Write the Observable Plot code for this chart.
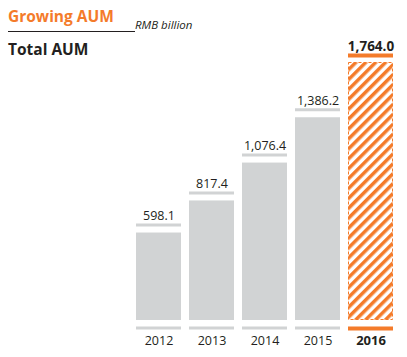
<!DOCTYPE html>
<html>
<head>
<meta charset="utf-8">
<script src="https://cdn.jsdelivr.net/npm/d3@7"></script>
<script src="https://cdn.jsdelivr.net/npm/@observablehq/plot@0.6"></script>
<style>
  html, body { margin: 0; padding: 0; background: #fff; }
  #wrap { position: relative; width: 407px; height: 357px; font-family: "Open Sans", sans-serif; }
  #wrap svg { position: absolute; left: 0; top: 0; }
  .t1 { position: absolute; left: 8px; top: 6px; font-size: 15.5px; font-weight: 700; color: #f47b2a; line-height: 20px; }
  .rule { position: absolute; left: 8px; top: 31px; width: 127px; height: 1px; background: #231f20; }
  .unit { position: absolute; left: 135px; top: 17px; font-size: 11.5px; font-style: italic; color: #231f20; line-height: 16px; }
  .t2 { position: absolute; left: 8px; top: 39px; font-size: 15.5px; font-weight: 700; color: #231f20; line-height: 20px; }
</style>
</head>
<body>
<div id="wrap">
  <div class="t1">Growing AUM</div>
  <div class="rule"></div>
  <div class="unit">RMB billion</div>
  <div class="t2">Total AUM</div>
</div>
<script>
const years = ["2012", "2013", "2014", "2015", "2016"];
const aum = [598.1, 817.4, 1076.4, 1386.2, 1764.0];
const valueLabels = ["598.1", "817.4", "1,076.4", "1,386.2", "1,764.0"];

const data = years.map((y, i) => ({year: y, value: aum[i], label: valueLabels[i], hi: y === "2016"}));
const past = data.filter(d => !d.hi);
const cur = data.filter(d => d.hi);

const orange = "#f47b2a";
const gray = "#d1d3d4";
const ink = "#231f20";

const chart = Plot.plot({
  width: 407,
  height: 357,
  marginLeft: 135,
  marginRight: 13,
  marginTop: 62,
  marginBottom: 37,
  style: {fontFamily: "Open Sans, sans-serif", background: "transparent", overflow: "visible"},
  x: {domain: years, paddingInner: 0.159, paddingOuter: 0, axis: null},
  y: {domain: [0, 1764], nice: false, axis: null},
  marks: [
    Plot.barY(past, {x: "year", y: "value", fill: gray}),
    Plot.barY(cur, {x: "year", y: "value", fill: "url(#hatch)", stroke: orange, strokeWidth: 1, strokeDasharray: "3,2", inset: 0.5}),
    Plot.tickY(past, {x: "year", y: "value", stroke: gray, strokeWidth: 3, dy: -8}),
    Plot.tickY(cur, {x: "year", y: "value", stroke: orange, strokeWidth: 4, dy: -7}),
    Plot.tickY(past, {x: "year", y: () => 0, stroke: gray, strokeWidth: 3, dy: 7.5}),
    Plot.tickY(cur, {x: "year", y: () => 0, stroke: orange, strokeWidth: 4, dy: 8}),
    Plot.text(past, {x: "year", y: "value", text: "label", dy: -17, fontSize: 12.5, fill: ink}),
    Plot.text(cur, {x: "year", y: "value", text: "label", dy: -16, fontSize: 13.5, fontWeight: 700, fill: ink}),
    Plot.text(past, {x: "year", y: () => 0, text: "year", dy: 20, fontSize: 12.5, fill: ink}),
    Plot.text(cur, {x: "year", y: () => 0, text: "year", dy: 20, fontSize: 13, fontWeight: 700, fill: ink})
  ]
});

const ns = "http://www.w3.org/2000/svg";
const defs = document.createElementNS(ns, "defs");
defs.innerHTML = `<pattern id="hatch" patternUnits="userSpaceOnUse" width="7" height="7" patternTransform="rotate(45)">
  <rect width="7" height="7" fill="#fff"></rect>
  <rect width="3.5" height="7" fill="${orange}"></rect>
</pattern>`;
chart.insertBefore(defs, chart.firstChild);

document.getElementById("wrap").prepend(chart);
</script>
</body>
</html>
